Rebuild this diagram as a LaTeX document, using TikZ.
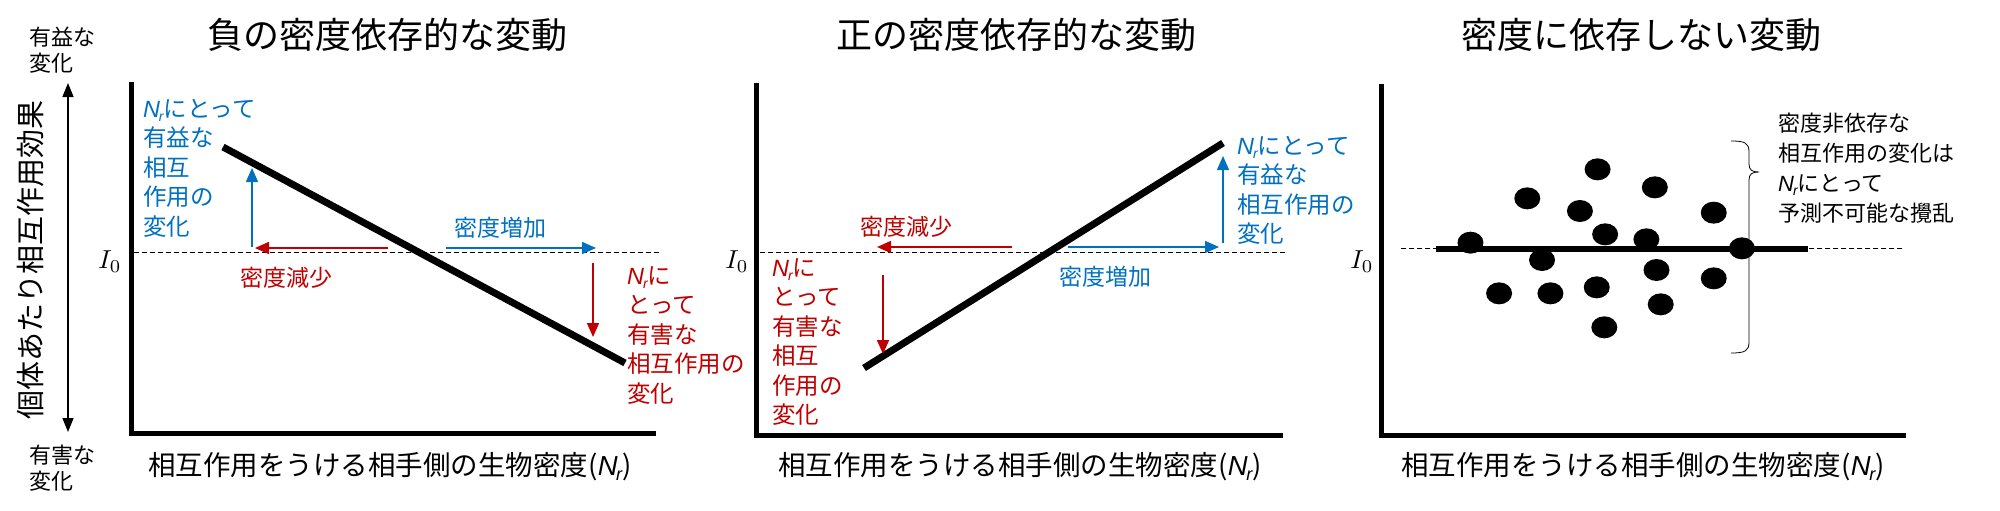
\documentclass[tikz,border=0pt]{standalone}
\usepackage{fontspec}
\usepackage{graphicx}
\setmainfont{Noto Sans CJK JP}
\newfontfamily\latn{Liberation Sans}
\usetikzlibrary{arrows.meta,shapes.geometric}
\definecolor{myblue}{RGB}{0,112,192}
\definecolor{myred}{RGB}{192,0,0}
\newcommand{\Nr}{{\latn\itshape N\kern-0.05em\raisebox{-0.35ex}{\fontsize{14}{14}\selectfont r}}}
\newcommand{\NrP}{{\latn\itshape N\kern-0.05em\raisebox{-0.35ex}{\fontsize{18}{18}\selectfont r}}}
\newcommand{\Izero}{\scalebox{2.6}{$I_0$}}
\begin{document}
\begin{tikzpicture}[x=1pt,y=-1pt,
  ttl/.style={font=\fontsize{36}{40}\selectfont,inner sep=0},
  xl/.style={font=\fontsize{27.5}{30}\selectfont,inner sep=0},
  lbl/.style={font=\fontsize{23}{29}\selectfont,inner sep=0},
  ann/.style={font=\fontsize{23.5}{29.5}\selectfont,inner sep=0,align=left,anchor=north west},
  axis/.style={line width=5pt},
  trend/.style={line width=7pt},
  dashln/.style={line width=0.8pt,dash pattern=on 5pt off 3pt},
  barr/.style={myblue,line width=1.5pt,-{Triangle[length=14pt,width=12pt]}},
  rarr/.style={myred,line width=1.5pt,-{Triangle[length=14pt,width=12pt]}},
  dot/.style={fill=black,ellipse,minimum width=26pt,minimum height=22pt,inner sep=0},
  iz/.style={inner sep=0}]
\useasboundingbox (0,0) rectangle (2000,511);
% left axis labels
\node[font=\fontsize{22}{26}\selectfont,align=left,inner sep=0] (good) at (62,50) {有益な\\変化};
\node[font=\fontsize{22}{26}\selectfont,align=left,inner sep=0] (bad) at (62,468) {有害な\\変化};
\coordinate (vt) at (68,83); \coordinate (vb) at (68,432);
\draw[line width=1.5pt,{Triangle[length=14pt,width=11pt]}-{Triangle[length=14pt,width=11pt]}] (vt) -- (vb);
\node[rotate=90,font=\fontsize{29}{30}\selectfont,inner sep=0] (ylab) at (31,260) {個体あたり相互作用効果};

% ===== panel 1 =====
\node[ttl] (t1) at (387,35) {負の密度依存的な変動};
\coordinate (o1) at (131,433); \coordinate (y1) at (131,82); \coordinate (x1) at (656,433);
\draw[axis] (y1) -- (o1) -- (x1);
\coordinate (d1a) at (134,252); \coordinate (d1b) at (661,252);
\draw[dashln] (d1a) -- (d1b);
\node[iz] (i1) at (110,262) {\Izero};
\coordinate (l1a) at (223,147); \coordinate (l1b) at (625,363);
\draw[trend] (l1a) -- (l1b);
\coordinate (ua) at (252,247); \coordinate (ub) at (252,168);
\draw[barr] (ua) -- (ub);
\coordinate (ra) at (388,248); \coordinate (rb) at (255,248);
\draw[rarr] (ra) -- (rb);
\coordinate (ba) at (446,248); \coordinate (bb) at (596,248);
\draw[barr] (ba) -- (bb);
\coordinate (da) at (593,263); \coordinate (db) at (593,337);
\draw[rarr] (da) -- (db);
\node[lbl,myblue] (inc1) at (500,228) {密度増加};
\node[lbl,myred] (dec1) at (286,278) {密度減少};
\node[ann,myblue] (b1) at (143,99) {\Nr にとって\\有益な\\相互\\作用の\\変化};
\node[ann,myred] (r1) at (627,266) {\Nr に\\とって\\有害な\\相互作用の\\変化};
\node[xl] (x1l) at (390,467) {相互作用をうける相手側の生物密度(\NrP)};

% ===== panel 2 =====
\node[ttl] (t2) at (1016,35) {正の密度依存的な変動};
\coordinate (o2) at (756,435); \coordinate (y2) at (756,83); \coordinate (x2) at (1283,435);
\draw[axis] (y2) -- (o2) -- (x2);
\coordinate (d2a) at (760,252); \coordinate (d2b) at (1285,252);
\draw[dashln] (d2a) -- (d2b);
\node[iz] (i2) at (737,262) {\Izero};
\coordinate (l2a) at (864,368); \coordinate (l2b) at (1223,143);
\draw[trend] (l2a) -- (l2b);
\coordinate (r2a) at (1012,247); \coordinate (r2b) at (877,247);
\draw[rarr] (r2a) -- (r2b);
\coordinate (b2a) at (1068,247); \coordinate (b2b) at (1219,247);
\draw[barr] (b2a) -- (b2b);
\coordinate (u2a) at (1223,243); \coordinate (u2b) at (1223,156);
\draw[barr] (u2a) -- (u2b);
\coordinate (d2c) at (883,275); \coordinate (d2d) at (883,354);
\draw[rarr] (d2c) -- (d2d);
\node[lbl,myred] (dec2) at (906,227) {密度減少};
\node[lbl,myblue] (inc2) at (1105,277) {密度増加};
\node[ann,myblue] (b2) at (1237,136) {\Nr にとって\\有益な\\相互作用の\\変化};
\node[ann,myred] (r2) at (772,258) {\Nr に\\とって\\有害な\\相互\\作用の\\変化};
\node[xl] (x2l) at (1020,467) {相互作用をうける相手側の生物密度(\NrP)};

% ===== panel 3 =====
\node[ttl] (t3) at (1641,35) {密度に依存しない変動};
\coordinate (o3) at (1381,435); \coordinate (y3) at (1381,84); \coordinate (x3) at (1906,435);
\draw[axis] (y3) -- (o3) -- (x3);
\coordinate (d3a) at (1401,248); \coordinate (d3b) at (1904,248);
\draw[dashln] (d3a) -- (d3b);
\node[iz] (i3) at (1362,262) {\Izero};
\coordinate (l3a) at (1436,249); \coordinate (l3b) at (1808,249);
\draw[line width=6pt] (l3a) -- (l3b);
\foreach \n/\zx/\zy in {a/310/728,b/445/595,c/480/780,d/378/880,e/500/880,f/612/508,g/570/633,h/630/703,i/610/862,j/628/982,k/748/562,l/728/718,m/752/810,n/762/913,o/888/638,p/888/835,q/955/745}
  \node[dot] (p\n) at ({1340+\zx/2.376},{\zy/3}) {};
\coordinate (bt) at (1731,141); \coordinate (bm) at (1759,172); \coordinate (bbt) at (1731,353);
\draw[line width=0.8pt] (bt) .. controls (1745,141) and (1749,143) .. (1749,152)
  -- (1749,164) .. controls (1749,170) and (1752,172) .. (bm)
  .. controls (1752,172) and (1749,174) .. (1749,180)
  -- (1749,342) .. controls (1749,351) and (1745,353) .. (bbt);
\node[ann,font=\fontsize{22}{30}\selectfont] (tx3) at (1778,113) {密度非依存な\\相互作用の変化は\\\Nr にとって\\予測不可能な攪乱};
\node[xl] (x3l) at (1643,467) {相互作用をうける相手側の生物密度(\NrP)};
\end{tikzpicture}
\end{document}
